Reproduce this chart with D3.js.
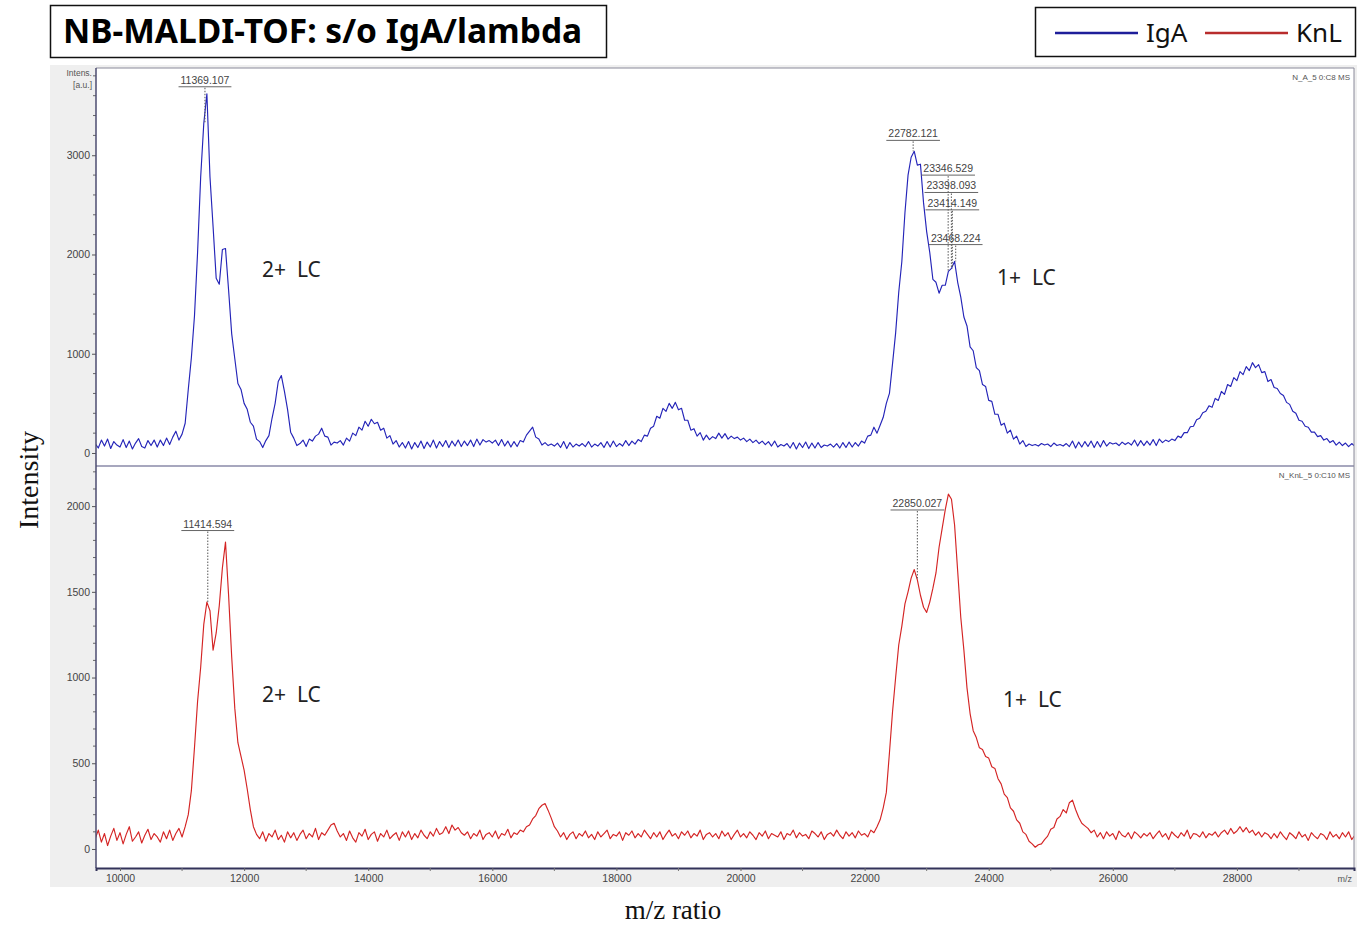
<!DOCTYPE html>
<html><head><meta charset="utf-8">
<script src="https://cdn.jsdelivr.net/npm/d3@7"></script>
<style>body{margin:0;background:#fff;} svg{display:block}</style>
</head><body>
<svg id="c" width="1360" height="927"></svg>
<script>
// ---------- DATA ----------
const MZ_START = 9600, MZ_STEP = 50;   // sampling grid of the spectra (m/z)

// IgA spectrum (a.u.), 9600 .. 29900 m/z, every 50
const igaIntensity = [
 95,50,130,70,140,45,115,80,60,135,55,120,40,100,145,65,50,125,75,130,
 60,130,75,150,85,160,220,130,190,300,640,960,1380,2020,2780,3320,3620,2780,2280,1760,
 1700,2050,2060,1640,1200,950,700,640,500,440,310,270,140,115,55,125,175,350,500,720,
 780,620,440,210,150,75,95,130,65,140,120,170,190,250,170,160,80,110,100,125,
 80,150,120,200,175,260,230,320,270,340,295,310,230,250,150,175,90,125,60,105,
 50,115,40,105,55,120,45,110,60,130,50,115,65,125,55,120,70,130,65,120,
 75,130,65,140,80,135,110,125,100,130,75,135,70,120,60,115,65,125,110,180,
 220,260,160,140,80,105,75,90,70,100,55,115,45,105,60,90,70,95,65,115,
 60,90,70,105,55,115,60,120,65,95,70,125,75,120,90,135,115,180,170,250,
 270,370,350,450,420,500,450,510,435,450,330,330,230,245,170,205,130,180,135,165,
 145,200,150,195,140,170,145,160,130,150,115,140,105,130,95,120,85,115,70,120,
 60,85,70,95,50,105,40,100,55,110,45,100,50,105,55,80,70,90,60,95,
 50,105,55,110,60,105,70,120,100,170,180,260,200,280,360,500,600,900,1210,1620,
 1930,2420,2800,2980,3040,2900,2910,2520,2230,2020,1750,1720,1610,1690,1690,1830,1860,1930,1720,1570,
 1370,1280,1070,1030,860,830,690,670,530,520,390,390,280,300,200,230,140,170,90,125,
 65,90,75,85,70,95,80,90,65,100,75,85,70,95,65,120,50,110,60,115,
 65,120,55,115,60,125,70,105,90,100,75,110,85,105,80,130,70,125,75,120,
 80,135,75,140,105,130,115,140,125,170,155,205,205,265,270,335,350,405,420,475,
 460,550,530,620,590,690,670,760,730,820,790,870,830,910,860,890,810,820,720,740,
 660,650,600,580,510,490,420,400,330,320,270,260,210,210,165,175,130,145,105,125,
 80,110,75,100,65,95,70
];

// KnL spectrum (a.u.), 9600 .. 29900 m/z, every 50
const knlIntensity = [
 60,110,40,90,20,75,120,50,95,30,85,130,45,70,100,35,80,115,55,90,
 70,40,100,60,110,50,90,120,70,130,200,340,590,860,1060,1310,1440,1390,1160,1260,
 1420,1640,1790,1480,1120,820,620,540,460,350,230,130,85,60,100,45,90,70,110,55,
 80,40,100,65,95,50,85,110,60,90,70,120,55,95,80,110,140,150,105,70,
 90,50,105,65,40,95,75,115,55,85,100,45,90,70,110,60,80,95,50,100,
 70,105,55,90,65,110,80,60,100,75,120,85,95,130,90,140,110,125,95,80,
 100,60,90,75,110,55,85,95,70,105,60,90,80,115,65,95,85,110,100,130,
 140,175,195,235,255,265,225,180,130,105,70,95,55,85,100,60,90,75,105,65,
 85,55,100,70,90,110,60,85,75,100,50,95,80,105,65,90,70,110,85,60,
 95,70,100,55,85,110,75,90,60,100,80,105,65,90,75,110,55,85,95,70,
 90,60,105,75,95,55,85,110,70,90,65,100,80,55,95,75,105,60,90,80,
 70,100,55,90,80,110,65,95,75,85,60,105,90,70,100,55,85,95,75,110,
 80,60,100,75,95,65,105,80,90,70,110,95,130,170,240,330,560,800,1000,1190,
 1300,1430,1500,1580,1630,1570,1480,1410,1380,1440,1520,1610,1760,1870,1980,2070,2040,1890,1620,1350,
 1160,940,790,690,650,590,580,540,530,480,470,410,380,320,300,240,220,170,150,100,
 85,45,30,10,25,30,55,75,115,125,175,190,230,210,270,285,230,185,150,135,
 120,95,110,70,95,60,100,75,90,55,105,80,70,95,60,100,85,65,90,75,
 95,60,85,105,70,90,55,100,80,65,95,75,110,60,90,85,70,100,65,90,
 80,100,70,95,110,85,120,90,105,130,100,125,95,110,80,100,70,95,85,60,
 90,65,100,75,55,95,80,60,100,70,85,50,95,75,60,90,80,55,100,70,
 85,60,95,70,100,55,80
];

const xTickValues = [10000,12000,14000,16000,18000,20000,22000,24000,26000,28000];
const xMinorTicks = [11000,13000,15000,17000,19000,21000,23000,25000,27000,29000];
const igaYTicks = [0,1000,2000,3000];
const knlYTicks = [0,500,1000,1500,2000];

// peak annotations: m/z, label text, label height (a.u.)
const igaPeakMz     = [11369.107, 22782.121, 23346.529, 23398.093, 23414.149, 23468.224];
const igaPeakText   = ["11369.107","22782.121","23346.529","23398.093","23414.149","23468.224"];
const igaPeakLabelY = [3720, 3180, 2830, 2655, 2480, 2130];
const knlPeakMz     = [11414.594, 22850.027];
const knlPeakText   = ["11414.594","22850.027"];
const knlPeakLabelY = [1875, 1995];

// charge-state annotations: m/z, intensity (a.u.), text
const igaLcMz = [12290, 24135], igaLcY = [1770, 1690], igaLcText = ["2+  LC","1+  LC"];
const knlLcMz = [12290, 24230], knlLcY = [860, 830],   knlLcText = ["2+  LC","1+  LC"];

const seriesNames = ["IgA","KnL"];
const seriesColors = ["#2424b8","#d42424"];
const legendColors = ["#1e1e9a","#b82c2c"];

// ---------- DRAW ----------
const svg = d3.select("#c");
const PL = 96, PR = 1354;
const topP = {t:68, b:466}, botP = {t:466, b:868};

const x = d3.scaleLinear().domain([9613, 29887]).range([PL, PR]);
const yTop = d3.scaleLinear().domain([-131, 3879]).range([topP.b, topP.t]);
const yBot = d3.scaleLinear().domain([-111, 2234]).range([botP.b, botP.t]);

// gray frame
svg.append("rect").attr("x",50).attr("y",65).attr("width",1307).attr("height",822).attr("fill","#efefef");
// white plot areas
svg.append("rect").attr("x",PL).attr("y",topP.t).attr("width",PR-PL).attr("height",botP.b-topP.t).attr("fill","#fff");

const defs = svg.append("defs");
defs.append("clipPath").attr("id","clipTop").append("rect").attr("x",PL).attr("y",topP.t).attr("width",PR-PL).attr("height",topP.b-topP.t);
defs.append("clipPath").attr("id","clipBot").append("rect").attr("x",PL).attr("y",botP.t).attr("width",PR-PL).attr("height",botP.b-botP.t);

function mzAt(i){ return MZ_START + i*MZ_STEP; }

function drawPanel(data, y, clip, color, yTicks, minorStep, maxV, peakMz, peakText, peakLabelY, lcMz, lcY, lcText, runName){
  const g = svg.append("g");
  // spectrum
  const line = d3.line().x((d,i)=>x(mzAt(i))).y(d=>y(d));
  g.append("path").datum(data).attr("d",line).attr("fill","none")
   .attr("stroke",color).attr("stroke-width",1.15).attr("stroke-linejoin","round")
   .attr("clip-path",`url(#${clip})`);
  // y axis
  const ax = d3.axisLeft(y).tickValues(yTicks).tickSize(4).tickPadding(2).tickFormat(d3.format("d"));
  const ag = svg.append("g").attr("transform",`translate(${PL},0)`).call(ax);
  ag.select(".domain").remove();
  ag.selectAll(".tick line").attr("stroke","#555");
  ag.selectAll(".tick text").attr("fill","#444").style("font-family","'Liberation Sans',Arial,sans-serif").style("font-size","10.5px");
  const minors = d3.range(0, maxV+1, minorStep).filter(v=>!yTicks.includes(v));
  ag.selectAll(".minor").data(minors).enter().append("line")
    .attr("x1",-3).attr("x2",0).attr("y1",d=>y(d)).attr("y2",d=>y(d)).attr("stroke","#666");
  // peak labels
  peakMz.forEach((mz,k)=>{
    const px = x(mz);
    const idx = Math.round((mz-MZ_START)/MZ_STEP);
    const ly = y(peakLabelY[k]);
    const t = g.append("text").attr("x",px).attr("y",ly).attr("text-anchor","middle")
      .attr("fill","#444").style("font-family","'Liberation Sans',Arial,sans-serif").style("font-size","10.5px")
      .text(peakText[k]);
    const w = t.node().getComputedTextLength();
    g.append("line").attr("x1",px-w/2-2).attr("x2",px+w/2+2).attr("y1",ly+3).attr("y2",ly+3).attr("stroke","#666").attr("stroke-width",1);
    g.append("line").attr("x1",px).attr("x2",px).attr("y1",ly+4).attr("y2",y(data[idx]))
      .attr("stroke","#555").attr("stroke-width",1).attr("stroke-dasharray","1.5,1.5");
  });
  // LC annotations
  lcMz.forEach((mz,k)=>{
    g.append("text").attr("x",x(mz)).attr("y",y(lcY[k])).attr("fill","#222")
      .style("font-family","'Noto Sans',sans-serif").style("font-size","21px").style("white-space","pre").text(lcText[k]);
  });
  // run name
  svg.append("text").attr("x",PR-4).attr("y",y.range()[1]+12).attr("text-anchor","end")
    .attr("fill","#555").style("font-family","'Liberation Sans',Arial,sans-serif").style("font-size","8px").text(runName);
}

drawPanel(igaIntensity, yTop, "clipTop", seriesColors[0], igaYTicks, 200, 3800, igaPeakMz, igaPeakText, igaPeakLabelY, igaLcMz, igaLcY, igaLcText, "N_A_5 0:C8 MS");
drawPanel(knlIntensity, yBot, "clipBot", seriesColors[1], knlYTicks, 100, 2200, knlPeakMz, knlPeakText, knlPeakLabelY, knlLcMz, knlLcY, knlLcText, "N_KnL_5 0:C10 MS");

// panel borders
svg.append("line").attr("x1",PL).attr("x2",PR).attr("y1",topP.t).attr("y2",topP.t).attr("stroke","#8a8a9a");
svg.append("line").attr("x1",PL).attr("x2",PR).attr("y1",topP.b).attr("y2",topP.b).attr("stroke","#8a8aa8").attr("stroke-width",1.5);
svg.append("line").attr("x1",PR).attr("x2",PR).attr("y1",topP.t).attr("y2",botP.b).attr("stroke","#8a8a9a");
svg.append("line").attr("x1",PL).attr("x2",PL).attr("y1",topP.t).attr("y2",botP.b).attr("stroke","#4c4c70").attr("stroke-width",1.5);

// x axis
const xa = d3.axisBottom(x).tickValues(xTickValues).tickSize(3).tickPadding(4).tickFormat(d3.format("d"));
const xg = svg.append("g").attr("transform",`translate(0,${botP.b})`).call(xa);
xg.select(".domain").attr("stroke","#33335a").attr("stroke-width",2);
xg.selectAll(".tick line").attr("stroke","#666");
xg.selectAll(".tick text").attr("fill","#444").style("font-family","'Liberation Sans',Arial,sans-serif").style("font-size","10.5px");
xg.selectAll(".minor").data(xMinorTicks).enter().append("line")
  .attr("x1",d=>x(d)).attr("x2",d=>x(d)).attr("y1",0).attr("y2",3).attr("stroke","#777");
svg.append("text").attr("x",1352).attr("y",botP.b+14).attr("text-anchor","end").attr("fill","#555")
  .style("font-family","'Liberation Sans',Arial,sans-serif").style("font-size","9px").text("m/z");

// Intens. [a.u.]
svg.append("text").attr("x",92).attr("y",76).attr("text-anchor","end").attr("fill","#555")
  .style("font-family","'Liberation Sans',Arial,sans-serif").style("font-size","8.5px").text("Intens.");
svg.append("text").attr("x",92).attr("y",88).attr("text-anchor","end").attr("fill","#555")
  .style("font-family","'Liberation Sans',Arial,sans-serif").style("font-size","8.5px").text("[a.u.]");

// axis titles
svg.append("text").attr("transform","translate(38,480) rotate(-90)").attr("text-anchor","middle").attr("fill","#111")
  .style("font-family","'Liberation Serif','Times New Roman',serif").style("font-size","28px").text("Intensity");
svg.append("text").attr("x",673).attr("y",919).attr("text-anchor","middle").attr("fill","#111")
  .style("font-family","'Liberation Serif','Times New Roman',serif").style("font-size","27px").text("m/z ratio");

// title box
svg.append("rect").attr("x",50.5).attr("y",5.5).attr("width",556).attr("height",52).attr("fill","#fff").attr("stroke","#111").attr("stroke-width",1.5);
svg.append("text").attr("x",63).attr("y",43).attr("fill","#000")
  .style("font-family","'Noto Sans',sans-serif").style("font-weight","bold").style("font-size","33.5px")
  .text("NB-MALDI-TOF: s/o IgA/lambda");

// legend
svg.append("rect").attr("x",1035.5).attr("y",7.5).attr("width",320).attr("height",49).attr("fill","#fff").attr("stroke","#111").attr("stroke-width",1.5);
const lgX = [1055, 1205];
seriesNames.forEach((n,i)=>{
  svg.append("line").attr("x1",lgX[i]).attr("x2",lgX[i]+83).attr("y1",33).attr("y2",33).attr("stroke",legendColors[i]).attr("stroke-width",2.5);
  svg.append("text").attr("x",lgX[i]+91).attr("y",42).attr("fill","#111")
    .style("font-family","'Noto Sans',sans-serif").style("font-size","26px").text(n);
});
</script>
</body></html>
